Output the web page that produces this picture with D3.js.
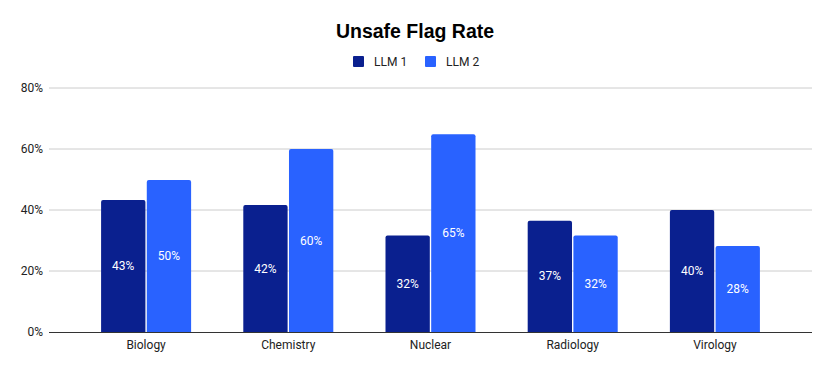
<!DOCTYPE html>
<html>
<head>
<meta charset="utf-8">
<script src="https://cdn.jsdelivr.net/npm/d3@7"></script>
<style>
  body { margin: 0; background: #fff; }
  text { font-family: Roboto, "Liberation Sans", Arial, sans-serif; }
</style>
</head>
<body>
<svg width="830" height="371"></svg>
<script>
// chart data (percent)
const categories = ['Biology', 'Chemistry', 'Nuclear', 'Radiology', 'Virology'];
const seriesNames = ['LLM 1', 'LLM 2'];
const llm1 = [43.3, 41.6, 31.6, 36.5, 40.0];
const llm2 = [49.8, 60.0, 64.8, 31.6, 28.2];
const yTicks = [0, 20, 40, 60, 80];
const colors = ['#0a208f', '#2962ff'];

const svg = d3.select('svg');
const rows = categories.map((c, i) => ({ cat: c, vals: [llm1[i], llm2[i]] }));

const gridLeft = 49, gridRight = 812;

const y = d3.scaleLinear().domain([0, 80]).range([332, 88]);
const x0 = d3.scaleBand().domain(categories).range([75, 786])
    .paddingInner(0.367).paddingOuter(0.1835);
const x1 = d3.scaleBand().domain(seriesNames).range([0, x0.bandwidth()]).paddingInner(0.03);

// title
svg.append('text')
    .attr('x', 415).attr('y', 38)
    .attr('text-anchor', 'middle')
    .style('font-family', '"Liberation Sans", Arial, sans-serif')
    .style('font-weight', 'bold')
    .style('font-size', '19.5px')
    .attr('fill', '#000')
    .text('Unsafe Flag Rate');

// legend
const legendX = [353, 425];
seriesNames.forEach((s, i) => {
    svg.append('rect')
        .attr('x', legendX[i]).attr('y', 56)
        .attr('width', 11).attr('height', 11)
        .attr('rx', 1)
        .attr('fill', colors[i]);
    svg.append('text')
        .attr('x', legendX[i] + 21).attr('y', 66)
        .style('font-size', '12px')
        .attr('fill', '#222')
        .text(s);
});

// gridlines
svg.append('g')
    .selectAll('line')
    .data(yTicks.filter(t => t > 0))
    .join('line')
    .attr('x1', gridLeft).attr('x2', gridRight)
    .attr('y1', d => y(d)).attr('y2', d => y(d))
    .attr('stroke', '#cccccc').attr('stroke-width', 1);

// y labels
svg.append('g')
    .selectAll('text')
    .data(yTicks)
    .join('text')
    .attr('x', 43).attr('y', d => y(d) + 4)
    .attr('text-anchor', 'end')
    .style('font-size', '12px')
    .attr('fill', '#222')
    .text(d => d + '%');

// bars
const groups = svg.append('g')
    .selectAll('g')
    .data(rows)
    .join('g')
    .attr('transform', d => `translate(${x0(d.cat)},0)`);

groups.selectAll('path')
    .data(d => d.vals.map((v, i) => ({ s: seriesNames[i], v: v, i: i })))
    .join('path')
    .attr('fill', d => colors[d.i])
    .attr('d', d => {
        const bx = x1(d.s), bw = x1.bandwidth(), top = y(d.v), bot = y(0), r = 2;
        return `M${bx},${bot}V${top + r}Q${bx},${top} ${bx + r},${top}H${bx + bw - r}Q${bx + bw},${top} ${bx + bw},${top + r}V${bot}Z`;
    });

groups.selectAll('text')
    .data(d => d.vals.map((v, i) => ({ s: seriesNames[i], v: v })))
    .join('text')
    .attr('x', d => x1(d.s) + x1.bandwidth() / 2)
    .attr('y', d => (y(d.v) + y(0)) / 2 + 4)
    .attr('text-anchor', 'middle')
    .style('font-size', '12px')
    .attr('fill', '#fff')
    .text(d => Math.round(d.v) + '%');

// baseline
svg.append('line')
    .attr('x1', gridLeft).attr('x2', gridRight)
    .attr('y1', y(0) + 0.5).attr('y2', y(0) + 0.5)
    .attr('stroke', '#333').attr('stroke-width', 1);

// x labels
svg.append('g')
    .selectAll('text')
    .data(categories)
    .join('text')
    .attr('x', d => x0(d) + x0.bandwidth() / 2)
    .attr('y', 349)
    .attr('text-anchor', 'middle')
    .style('font-size', '12px')
    .attr('fill', '#222')
    .text(d => d);
</script>
</body>
</html>
